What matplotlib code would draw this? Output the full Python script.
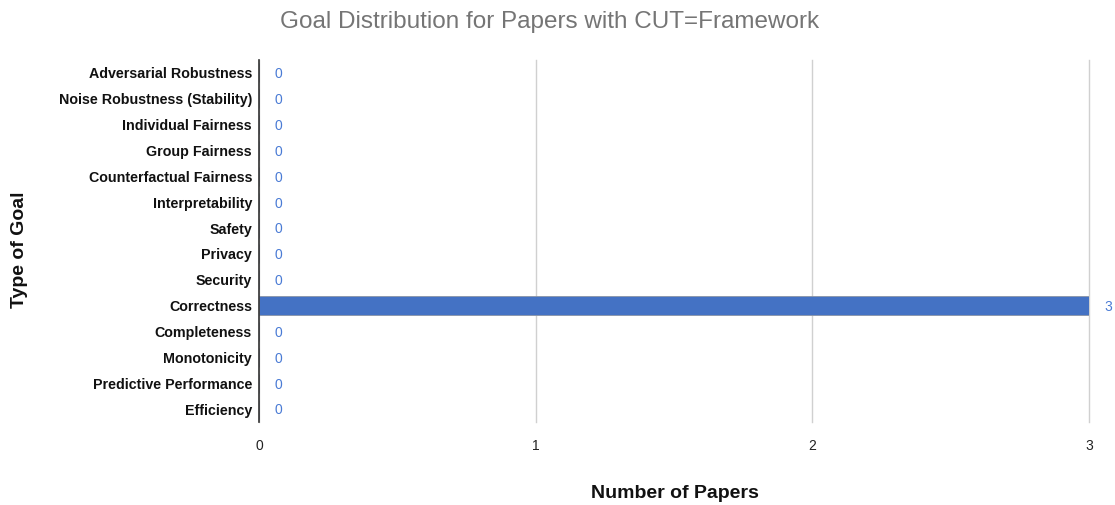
import numpy as np
import matplotlib.pyplot as plt

plt.rcParams['font.family'] = ['Liberation Sans', 'DejaVu Sans']

# data
goals = ["Adversarial Robustness", "Noise Robustness (Stability)", "Individual Fairness",
         "Group Fairness", "Counterfactual Fairness", "Interpretability", "Safety",
         "Privacy", "Security", "Correctness", "Completeness", "Monotonicity",
         "Predictive Performance", "Efficiency"]
papers = [0, 0, 0, 0, 0, 0, 0, 0, 0, 3, 0, 0, 0, 0]
x_ticks = [0, 1, 2, 3]

bar_color = '#4472c4'
label_color = '#4a7bd5'

fig = plt.figure(figsize=(11.15, 5.05), dpi=100)
ax = fig.add_axes([259 / 1115, 1 - 422 / 505, (1089 - 259) / 1115, (422 - 60) / 505])

y = np.arange(len(goals))
ax.barh(y, papers, height=0.74, color=bar_color, edgecolor='#8a94a6', linewidth=0.6, zorder=3)
ax.set_ylim(len(goals) - 0.5, -0.5)
ax.set_xlim(0, 3)

for yi, v in zip(y, papers):
    ax.annotate(str(v), (v, yi), xytext=(11, -1), textcoords='offset points',
                ha='left', va='center', fontsize=10, color=label_color)

ax.set_xticks(x_ticks)
ax.set_xticklabels([str(t) for t in x_ticks], fontsize=10, color='#222222')
ax.set_yticks(y)
ax.set_yticklabels(goals, fontsize=10.3, fontweight='bold', color='#111111')
ax.tick_params(axis='both', length=0)
ax.tick_params(axis='x', pad=12)
ax.tick_params(axis='y', pad=5)

ax.grid(axis='x', color='#d0d0d0', linewidth=1, zorder=0)
for gl in ax.get_xgridlines():
    gl.set_clip_on(False)
for s in ['top', 'right', 'bottom']:
    ax.spines[s].set_visible(False)
ax.spines['left'].set_color('#333333')
ax.spines['left'].set_linewidth(1.2)
ax.spines['left'].set_zorder(4)

fig.text(550 / 1115, 1 - 22 / 505, "Goal Distribution for Papers with CUT=Framework",
         ha='center', va='center', fontsize=17.5, color='#757575')
fig.text(675 / 1115, 1 - 493 / 505, "Number of Papers", ha='center', va='center',
         fontsize=14, fontweight='bold', color='#111111')
fig.text(20 / 1115, 1 - 250 / 505, "Type of Goal", ha='center', va='center',
         rotation=90, fontsize=14, fontweight='bold', color='#111111')

fig.savefig('out.png', dpi=100)
